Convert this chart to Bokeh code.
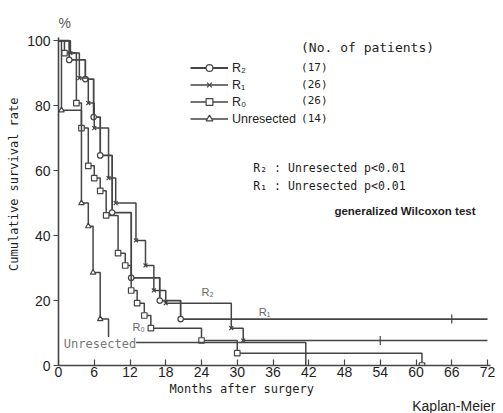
import numpy as np
from bokeh.plotting import figure
from bokeh.models import Range1d, FixedTicker, Label, Legend, LegendItem, Title
from bokeh.embed import file_html
from bokeh.resources import INLINE

# ---------------- data ----------------
x_ticks = [0, 6, 12, 18, 24, 30, 36, 42, 48, 54, 60, 66, 72]
y_ticks = [0, 20, 40, 60, 80, 100]

# event times (months) and survival (%) after each event
r2_t = [1.8, 4.5, 5.9, 7.0, 9.0, 12.2, 17.0, 20.5]
r2_s = [94.1, 88.2, 76.5, 64.7, 47.1, 27.0, 20.0, 14.3]
r2_end = 72
r2_censor_t = [66]

r1_t = [2.0, 3.5, 5.0, 6.0, 8.4, 9.6, 13.0, 14.6, 16.0, 18.0, 29.0, 31.0]
r1_s = [96.2, 88.5, 80.8, 73.1, 57.7, 50.0, 38.5, 30.8, 23.1, 19.2, 11.5, 7.7]
r1_end = 72
r1_censor_t = [54]

r0_t = [1.0, 3.0, 3.85, 5.0, 6.0, 7.0, 8.0, 10.0, 11.2, 12.2, 13.2, 14.4, 15.5, 24.0, 30.0, 61.0]
r0_s = [96.2, 80.8, 73.1, 61.5, 57.7, 53.8, 46.2, 34.6, 30.8, 23.1, 19.2, 15.4, 11.5, 7.7, 3.8, 0.0]

un_t = [0.5, 3.85, 5.0, 5.8, 7.0, 8.4, 41.5]
un_s = [78.6, 50.0, 42.9, 28.6, 14.3, 7.1, 0.0]

series_names = ["R\u2082", "R\u2081", "R\u2080", "Unresected"]
n_patients = ["(17)", "(26)", "(26)", "(14)"]

# ---------------- figure ----------------
W, H = 503, 413
p = figure(width=W, height=H, output_backend="svg", toolbar_location=None,
           x_range=Range1d(0, 72.5), y_range=Range1d(0, 101),
           min_border_left=57, min_border_right=13, min_border_top=37, min_border_bottom=48)
p.outline_line_color = None
p.xgrid.visible = False
p.ygrid.visible = False
p.background_fill_color = "white"
p.border_fill_color = "white"

LC = "#454545"
TC = "#1e1e1e"
MONO = "DejaVu Sans Mono"
SANS = "Liberation Sans"


def km_xy(t, s, end=None):
    xs = [0.0] + list(t)
    ys = [100.0] + list(s)
    if end is not None:
        xs.append(end)
        ys.append(s[-1])
    return xs, ys


def draw(t, s, end, marker, lw, mark_n=None):
    xs, ys = km_xy(t, s, end)
    ln = p.step(xs, ys, mode="after", line_color=LC, line_width=lw)
    mt = t if mark_n is None else t[:mark_n]
    ms = s if mark_n is None else s[:mark_n]
    sc = p.scatter(mt, ms, marker=marker, size=5.5, line_color=LC, fill_color="white", line_width=1.2)
    return ln, sc


r2 = draw(r2_t, r2_s, r2_end, "circle", 1.8)
r1 = draw(r1_t, r1_s, r1_end, "x", 1.5)
r0 = draw(r0_t, r0_s, None, "square", 1.5)
un = draw(un_t, un_s, None, "triangle", 1.5, mark_n=len(un_t) - 1)

# censor marks
p.scatter(r2_censor_t, [r2_s[-1]] * len(r2_censor_t), marker="dash", angle=np.pi / 2,
          size=9, line_color=LC, line_width=1.2)
p.scatter(r1_censor_t, [r1_s[-1]] * len(r1_censor_t), marker="dash", angle=np.pi / 2,
          size=9, line_color=LC, line_width=1.2)

# ---------------- axes ----------------
p.xaxis.ticker = FixedTicker(ticks=x_ticks)
p.yaxis.ticker = FixedTicker(ticks=y_ticks)
for ax in (p.xaxis[0], p.yaxis[0]):
    ax.axis_line_color = LC
    ax.axis_line_width = 1.6
    ax.major_tick_line_color = LC
    ax.major_tick_line_width = 1.2
    ax.minor_tick_line_color = None
    ax.major_label_text_font = SANS
    ax.major_label_text_font_size = "14px"
    ax.major_label_text_color = TC
p.xaxis.major_tick_in = 6
p.xaxis.major_tick_out = 0
p.xaxis.major_label_standoff = 1
p.yaxis.major_tick_in = 0
p.yaxis.major_tick_out = 5
p.yaxis.major_label_standoff = 3

# axis titles as Title objects (allows offsets like the reference)
p.add_layout(Title(text="Cumulative survival rate", align="right", offset=60, standoff=8,
                   text_font=MONO, text_font_size="12px", text_font_style="normal",
                   text_color=TC), "left")
p.add_layout(Title(text="Months after surgery", align="left", offset=111, standoff=0,
                   text_font=MONO, text_font_size="12px", text_font_style="normal",
                   text_color=TC), "below")
p.add_layout(Title(text="Kaplan-Meier", align="right", offset=-5, standoff=0,
                   text_font=SANS, text_font_size="14px", text_font_style="normal",
                   text_color=TC), "below")
p.add_layout(Title(text="%", align="left", offset=0, standoff=14,
                   text_font=SANS, text_font_size="14px", text_font_style="normal",
                   text_color="#555555"), "above")

# ---------------- legend ----------------
items = [LegendItem(label=series_names[i], renderers=list(r)) for i, r in enumerate([r2, r1, r0, un])]
leg = Legend(items=items, location=(132, 238), orientation="vertical",
             glyph_width=38, glyph_height=17, label_height=17, label_standoff=4,
             padding=0, spacing=0, margin=0,
             border_line_color=None, background_fill_alpha=0,
             label_text_font=SANS, label_text_font_size="12.5px", label_text_color=TC)
p.add_layout(leg, "center")

# ---------------- text annotations ----------------
def lab(x, y, text, font=MONO, size="12px", color=TC, align="left", style="normal", bg=None, angle=0):
    kw = {}
    if bg is not None:
        kw["background_fill_color"] = bg
    p.add_layout(Label(x=x, y=y, text=text, text_font=font, text_font_size=size, text_color=color,
                       text_align=align, text_baseline="middle", text_font_style=style, angle=angle, **kw))

lab(40.7, 97.8, "(No. of patients)", size="13px")
row_y = [91.8, 86.6, 81.6, 76.2]
for yy, n in zip(row_y, n_patients):
    lab(40.7, yy, n, size="11px")

lab(32.7, 60.8, "R\u2082 : Unresected  p<0.01", size="11.5px")
lab(32.7, 55.2, "R\u2081 : Unresected  p<0.01", size="11.5px")
lab(46.3, 47.5, "generalized Wilcoxon test", font=SANS, size="11.5px", style="bold")

lab(24.0, 22.6, "R\u2082", font=SANS, size="11px", color="#666666")
lab(33.6, 16.6, "R\u2081", font=SANS, size="11px", color="#666666")
lab(12.4, 12.0, "R\u2080", font=SANS, size="11px", color="#666666")
lab(0.9, 6.6, "Unresected", size="12px", color="#777777", bg="white")

open("out.html", "w").write(file_html(p, INLINE))
